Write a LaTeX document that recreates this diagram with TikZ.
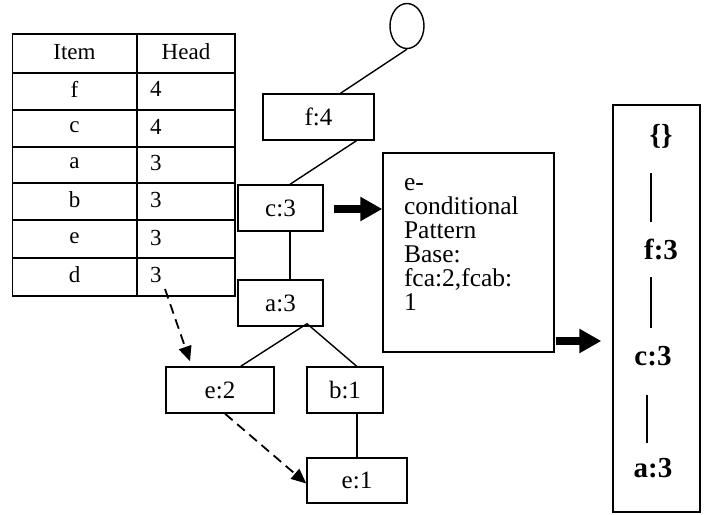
\documentclass[tikz,border=0pt]{standalone}
\usepackage{fontspec}
\setmainfont{Liberation Serif}
\usetikzlibrary{arrows.meta,shapes.geometric,calc}
\begin{document}
\begin{tikzpicture}[x=1pt,y=-1pt,
  treebox/.style={draw, line width=1.4pt, minimum width=#1, minimum height=46pt, inner sep=0pt,
    font=\fontsize{25}{27}\selectfont},
  tcell/.style={inner sep=0pt, font=\fontsize{23}{25}\selectfont},
  tline/.style={line width=1.8pt},
  conn/.style={line width=1.4pt},
  dasharrow/.style={line width=1.8pt, dash pattern=on 10pt off 6pt, -{Triangle[length=15pt,width=13pt]}},
  blockarrow/.style={line width=8.5pt, -{Triangle[length=22pt,width=23pt]}},
  boldtxt/.style={inner sep=0pt, font=\fontsize{29}{31}\selectfont\bfseries},
]
\useasboundingbox (0,0) rectangle (708,514);

% ---------- table ----------
\draw[tline] (12.5,34.3) rectangle (235,295.7);
\draw[tline] (136.7,34.3) -- (136.7,295.7);
\foreach \yy in {72.7,110,146.7,182.7,220,257.7}
  \draw[tline] (12.5,\yy) -- (235,\yy);
\node[tcell] (thItem) at (74.5,52) {Item};
\node[tcell] (thHead) at (186,52) {Head};
\node[tcell] (tf) at (74.5,89) {f};
\node[tcell] (tc) at (74.5,127) {c};
\node[tcell] (ta) at (74.5,163) {a};
\node[tcell] (tb) at (74.5,200) {b};
\node[tcell] (te) at (74.5,238) {e};
\node[tcell] (td) at (74.5,275) {d};
\node[tcell, anchor=west] (hf) at (150,89) {4};
\node[tcell, anchor=west] (hc) at (150,126.5) {4};
\node[tcell, anchor=west] (ha) at (150,163) {3};
\node[tcell, anchor=west] (hb) at (150,200) {3};
\node[tcell, anchor=west] (he) at (150,237.5) {3};
\node[tcell, anchor=west] (hd) at (150,275) {3};

% ---------- tree ----------
\node[draw, ellipse, line width=1.4pt, minimum width=34pt, minimum height=45pt, inner sep=0pt] (root) at (407,26) {};
\node[treebox=111pt] (f4) at (318.5,117) {f:4};
\node[treebox=85pt] (c3) at (280.5,208) {c:3};
\node[treebox=85pt] (a3) at (280.5,303) {a:3};
\node[treebox=108pt] (e2) at (220,390) {e:2};
\node[treebox=76pt] (b1) at (345,390) {b:1};
\node[treebox=100pt, minimum height=45pt] (e1) at (357,480.5) {e:1};

\draw[conn] (root.south) -- ([xshift=22pt]f4.north);
\draw[conn] ([xshift=38pt]f4.south) -- ([xshift=9.5pt]c3.north);
\draw[conn] ([xshift=9.5pt]c3.south) -- ([xshift=9.5pt]a3.north);
\coordinate (apex) at ([xshift=26.5pt,yshift=3pt]a3.south);
\draw[conn] (apex) -- ([xshift=20.7pt]e2.north);
\draw[conn] (apex) -- ([xshift=11.7pt]b1.north);
\draw[conn] ([xshift=12pt]b1.south) -- ([xshift=0pt]e1.north);

% dashed arrows
\coordinate (dstart) at (165,289);
\draw[dasharrow] (dstart) -- ([xshift=-30pt,yshift=5pt]e2.north);
\draw[dasharrow] ([xshift=5pt]e2.south) -- ([yshift=-3pt]e1.west);

% ---------- conditional pattern base ----------
\node[draw, line width=1.4pt, minimum width=171pt, minimum height=199pt, inner xsep=21pt, inner ysep=0pt,
      text width=129pt, align=left, font=\fontsize{25.5}{24}\selectfont] (cond) at (468.5,252.5)
  {e-\\conditional\\Pattern\\Base:\\fca:2,fcab:\\1\\[-8pt]\mbox{}};

\coordinate (ba1) at ([xshift=10pt,yshift=-1pt]c3.east);
\draw[blockarrow] (ba1) -- (ba1 -| cond.west);

% ---------- result tree ----------
\node[draw, line width=1.4pt, minimum width=87pt, minimum height=407pt, inner sep=0pt] (rbox) at (656.5,308.5) {};
\node[boldtxt] (r0) at (661,136) {\{\}};
\node[boldtxt] (r1) at (661,249) {f:3};
\node[boldtxt] (r2) at (653,356) {c:3};
\node[boldtxt] (r3) at (653,468) {a:3};
\draw[conn] (651,173) -- (651,222);
\draw[conn] (651,277) -- (651,328);
\draw[conn] (647,395) -- (647,443);

\coordinate (ba2) at ([xshift=1pt]cond.east |- 0,341);
\draw[blockarrow] (ba2) -- ([xshift=-11pt]ba2 -| rbox.west);
\end{tikzpicture}
\end{document}
